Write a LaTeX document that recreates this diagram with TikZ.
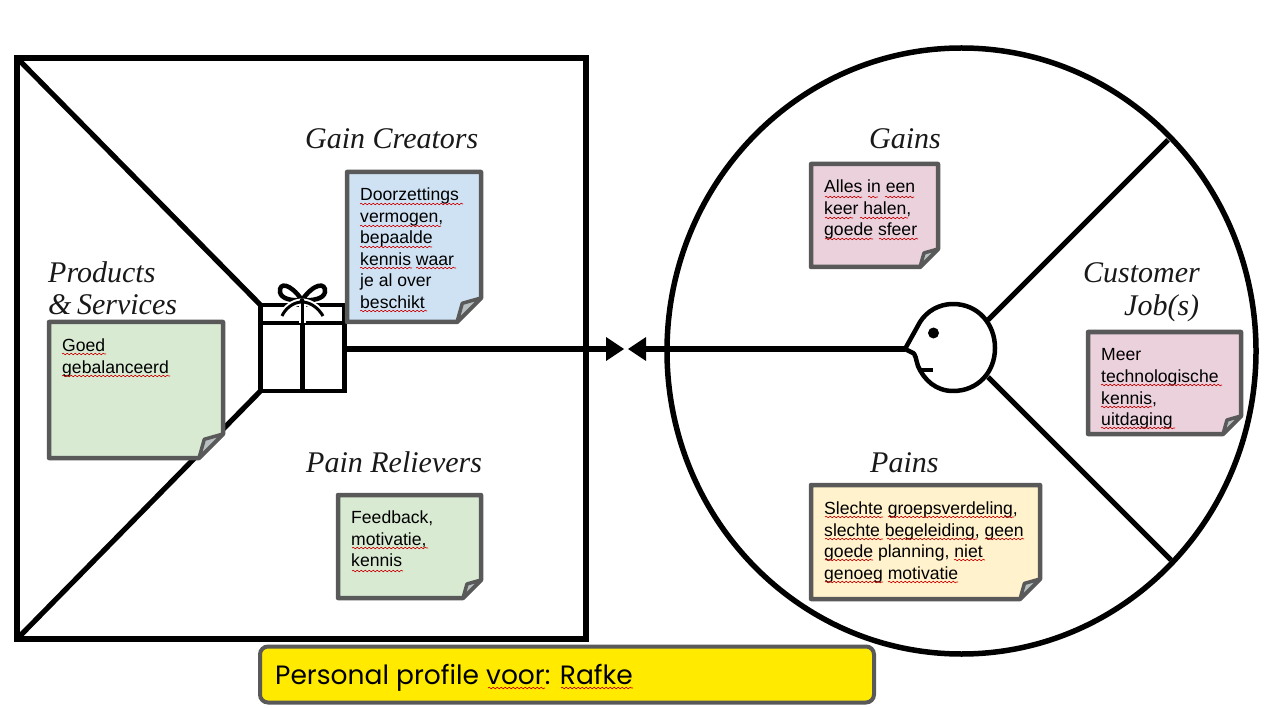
\documentclass[tikz,border=0pt]{standalone}
\usepackage{fontspec}
\setmainfont{Liberation Sans}
\newfontfamily\headfont{Liberation Serif}
\newfontfamily\barfont{Poppins}
\usetikzlibrary{decorations.pathmorphing}
\definecolor{noteedge}{HTML}{595959}
\definecolor{noteblue}{HTML}{CFE2F3}
\definecolor{notegreen}{HTML}{D9EAD3}
\definecolor{notepink}{HTML}{EAD1DC}
\definecolor{noteyellow}{HTML}{FFF2CC}
\definecolor{barfill}{HTML}{FFEA00}
\definecolor{foldgrey}{HTML}{B7BFC0}
\tikzset{
  x=1pt,y=-1pt,
  heavy/.style={draw=black,line width=5.2pt},
  giftline/.style={draw=black,line width=4.4pt},
  frame/.style={draw=black,line width=5.5pt},
  notetext/.style={anchor=north west,inner sep=0pt,align=left,font=\fontsize{17.6}{21.6}\selectfont,text=black},
  headtext/.style={inner sep=0pt,align=left,font=\headfont\itshape\fontsize{30}{32}\selectfont,text=black!90},
  squig/.style={draw=red!80!black,line width=0.6pt,decorate,decoration={snake,amplitude=0.8pt,segment length=4pt}},
  tip/.style={fill=black,draw=none},
}
\newcommand{\notebox}[7]{% name x1 y1 x2 y2 colour foldsize
  \coordinate (#1-a) at (#2,#3);
  \coordinate (#1-b) at (#4,#3);
  \coordinate (#1-c) at (#4,#5-#7);
  \coordinate (#1-d) at (#4-#7,#5);
  \coordinate (#1-e) at (#2,#5);
  \coordinate (#1-f) at (#4-0.78*#7,#5-0.78*#7);
  \draw[draw=noteedge,line width=4.5pt,fill=#6,line join=round] (#1-a)--(#1-b)--(#1-c)--(#1-d)--(#1-e)--cycle;
  \draw[draw=noteedge,line width=3.5pt,fill=foldgrey,line join=round] (#1-c)--(#1-d)--(#1-f)--cycle;
}
\newcommand{\sq}[3]{\draw[squig] (#1,#3)--(#2,#3);}
\begin{document}
\begin{tikzpicture}
\useasboundingbox (0,0) rectangle (1268,708);
\fill[white] (0,0) rectangle (1268,708);
% value map
\coordinate (sqtl) at (17,58);
\coordinate (sqbr) at (586,639);
\coordinate (sqbl) at (17,639);
\node[giftline,minimum width=84pt,minimum height=86pt,inner sep=0pt,outer sep=0pt] (gift) at (302.5,348) {};
\draw[frame] (sqtl) rectangle (sqbr);
\draw[heavy,line cap=butt] (sqtl) -- (gift.north west);
\draw[heavy,line cap=butt] (sqbl) -- (gift.south west);
\draw[giftline] (261,323) -- (344,323);
\draw[giftline] (302.5,323) -- (gift.south);
% bow
\draw[black,line width=4.5pt] (302,300) .. controls (290,283) and (279,282) .. (280,292) .. controls (281,299) and (292,301) .. (302,300)
  .. controls (314,283) and (326,282) .. (325,292) .. controls (324,299) and (312,301) .. (302,300);
\draw[white,line width=7pt] (302,302) .. controls (293,302) and (285,309) .. (282,316);
\draw[white,line width=7pt] (302,302) .. controls (311,302) and (319,309) .. (323,316);
\draw[white,line width=7pt] (302.5,302) -- (302.5,323);
\draw[black,line width=3pt] (302,302) .. controls (293,302) and (285,309) .. (282,316);
\draw[black,line width=3pt] (302,302) .. controls (311,302) and (319,309) .. (323,316);
\draw[black,line width=3.5pt] (302.5,302) -- (302.5,323);
\fill[black] (302,301) circle (2.5);
% customer profile
\draw[frame] (961.5,351) ellipse [x radius=294.5,y radius=303];
\coordinate (headtr) at (988,320);
\coordinate (headbr) at (988,377);
\coordinate (nose) at (905,349);
\draw[heavy] (headtr) -- (1168,140);
\draw[heavy] (headbr) -- (1171,560);
\draw[black,line width=4.5pt,fill=white,line join=round] (nose) -- (920,322) .. controls (927,311) and (939,304) .. (953,304)
  .. controls (978,304) and (995,324) .. (995,348) .. controls (995,372) and (978,391) .. (953,391)
  .. controls (936,391) and (924,380) .. (918,366) .. controls (916,361) and (916,352) .. (911,352) -- (nose) -- cycle;
\fill[black] (933.5,333) circle (5.5);
\draw[black,line width=4pt] (920,370) -- (933,370);
% arrows
\coordinate (tipr) at (624,349);
\coordinate (tipl) at (628,349);
\draw[heavy] (gift.east |- tipr) -- (610,349);
\draw[heavy] (646,349) -- (nose);
\fill[tip] (tipr) -- (606,337) -- (606,361) -- cycle;
\fill[tip] (tipl) -- (646,337) -- (646,361) -- cycle;
% headings
\node[headtext,anchor=base west] (h1) at (305,149) {Gain Creators};
\node[headtext,anchor=base west] (h2) at (306,472) {Pain Relievers};
\node[headtext,anchor=base west] (h3) at (48,283) {Products};
\node[headtext,anchor=base west] (h4) at (48,315) {\&\hspace{-2pt} Services};
\node[headtext,anchor=base west] (h5) at (869,149) {Gains};
\node[headtext,anchor=base west] (h6) at (870,472) {Pains};
\node[headtext,anchor=base west] (h7) at (1083,283) {Customer};
\node[headtext,anchor=base west] (h8) at (1124,316) {Job(s)};
% notes
\notebox{nb}{347}{172}{481}{322}{noteblue}{24}
\notebox{ng}{49}{322}{223}{458}{notegreen}{24}
\notebox{nr}{338}{495}{481}{598}{notegreen}{18}
\notebox{np}{811}{164}{938}{267}{notepink}{18}
\notebox{nj}{1088}{332}{1241}{434}{notepink}{18}
\notebox{ny}{811}{485}{1040}{599}{noteyellow}{20}
\node[notetext] (tb) at (360,187.5) {Doorzettings\\vermogen,\\bepaalde\\kennis waar\\je al over\\beschikt};
\node[notetext] (tg) at (62,339) {Goed\\gebalanceerd};
\node[notetext] (tr) at (351,510.5) {Feedback,\\motivatie,\\kennis};
\node[notetext] (tp) at (824,179.5) {Alles in een\\keer halen,\\goede sfeer};
\node[notetext] (tj) at (1101,348.5) {Meer\\technologische\\kennis,\\uitdaging};
\node[notetext] (ty) at (824,501.5) {Slechte groepsverdeling,\\slechte begeleiding, geen\\goede planning, niet\\genoeg motivatie};
% spelling marks
\sq{360}{463}{204}\sq{360}{441}{226}\sq{360}{432}{247}\sq{360}{412}{268}\sq{416}{456}{268}\sq{360}{427}{311}
\sq{62}{106}{354}\sq{62}{170}{376}
\sq{352}{428}{548}\sq{352}{403}{571}
\sq{825}{862}{197}\sq{868}{878}{197}\sq{885}{914}{197}\sq{825}{853}{218}\sq{860}{908}{218}\sq{825}{873}{239}\sq{879}{918}{239}
\sq{1101}{1222}{385}\sq{1101}{1152}{407}\sq{1101}{1175}{428}
\sq{825}{883}{517}\sq{888}{1014}{517}\sq{825}{883}{539}\sq{887}{977}{539}\sq{985}{1024}{539}
\sq{825}{873}{560}\sq{954}{985}{560}\sq{825}{883}{582}\sq{888}{958}{582}
% bar
\node[draw=noteedge,line width=4pt,fill=barfill,rounded corners=8pt,minimum width=614pt,minimum height=56pt,inner sep=0pt] (bar) at (567,674.5) {};
\node[anchor=base west,inner sep=0pt,font=\barfont\fontsize{26.5}{30}\selectfont] (bart) at (275,684) {Personal profile voor: Rafke};
\draw[squig] (488,688)--(545,688);
\draw[squig] (561,688)--(633,688);
\end{tikzpicture}
\end{document}
